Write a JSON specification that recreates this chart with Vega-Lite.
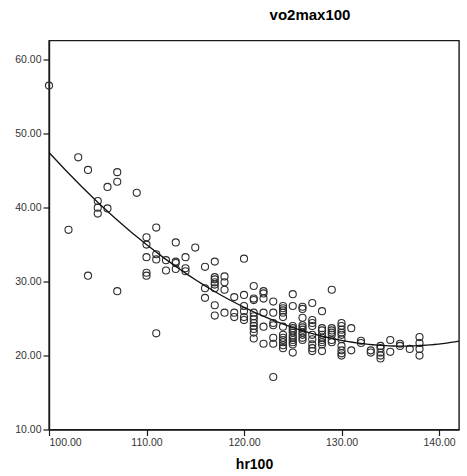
{
  "$schema": "https://vega.github.io/schema/vega-lite/v6.json",
  "autosize": {"type": "none"},
  "padding": {"left": 49, "top": 40.5, "right": 8, "bottom": 46},
  "width": 410,
  "height": 389,
  "background": "#ffffff",
  "title": {
    "text": "vo2max100",
    "anchor": "middle",
    "dx": 56,
    "offset": 5.5,
    "baseline": "alphabetic",
    "font": "Liberation Sans",
    "fontSize": 15,
    "fontWeight": "bold",
    "color": "#000000"
  },
  "config": {
    "font": "Liberation Sans",
    "view": {"stroke": "#1a1a1a", "strokeWidth": 1.4},
    "axis": {
      "grid": false,
      "domainColor": "#1a1a1a",
      "domainWidth": 1.4,
      "tickColor": "#1a1a1a",
      "tickWidth": 1.2,
      "tickSize": 6,
      "labelFont": "Liberation Sans",
      "labelFontSize": 10.5,
      "labelColor": "#333333",
      "labelPadding": 2,
      "titleFont": "Liberation Sans",
      "titleFontSize": 14,
      "titleFontWeight": "bold",
      "titleColor": "#000000"
    }
  },
  "data": {
    "values": [
      {"hr": 100, "vo2": 56.5},
      {"hr": 102, "vo2": 37.0},
      {"hr": 103, "vo2": 46.8},
      {"hr": 104, "vo2": 45.1}, {"hr": 104, "vo2": 30.8},
      {"hr": 105, "vo2": 40.9}, {"hr": 105, "vo2": 40.0}, {"hr": 105, "vo2": 39.2},
      {"hr": 106, "vo2": 42.8}, {"hr": 106, "vo2": 39.9},
      {"hr": 107, "vo2": 44.8}, {"hr": 107, "vo2": 43.5}, {"hr": 107, "vo2": 28.7},
      {"hr": 109, "vo2": 42.0},
      {"hr": 110, "vo2": 36.0}, {"hr": 110, "vo2": 35.0}, {"hr": 110, "vo2": 33.3}, {"hr": 110, "vo2": 31.2}, {"hr": 110, "vo2": 30.8},
      {"hr": 111, "vo2": 37.3}, {"hr": 111, "vo2": 33.7}, {"hr": 111, "vo2": 33.0}, {"hr": 111, "vo2": 23.0},
      {"hr": 112, "vo2": 32.9}, {"hr": 112, "vo2": 31.5},
      {"hr": 113, "vo2": 35.3}, {"hr": 113, "vo2": 32.7}, {"hr": 113, "vo2": 32.5}, {"hr": 113, "vo2": 31.7},
      {"hr": 114, "vo2": 33.3}, {"hr": 114, "vo2": 31.8}, {"hr": 114, "vo2": 31.4},
      {"hr": 115, "vo2": 34.6},
      {"hr": 116, "vo2": 32.0}, {"hr": 116, "vo2": 29.1}, {"hr": 116, "vo2": 27.8},
      {"hr": 117, "vo2": 32.7}, {"hr": 117, "vo2": 30.6}, {"hr": 117, "vo2": 30.3}, {"hr": 117, "vo2": 29.9}, {"hr": 117, "vo2": 29.6}, {"hr": 117, "vo2": 29.1}, {"hr": 117, "vo2": 26.8}, {"hr": 117, "vo2": 25.4},
      {"hr": 118, "vo2": 30.7}, {"hr": 118, "vo2": 29.9}, {"hr": 118, "vo2": 28.9}, {"hr": 118, "vo2": 25.8},
      {"hr": 119, "vo2": 27.9}, {"hr": 119, "vo2": 25.8}, {"hr": 119, "vo2": 25.2},
      {"hr": 120, "vo2": 33.1}, {"hr": 120, "vo2": 28.2}, {"hr": 120, "vo2": 26.7}, {"hr": 120, "vo2": 26.0}, {"hr": 120, "vo2": 25.2}, {"hr": 120, "vo2": 24.8},
      {"hr": 121, "vo2": 29.4}, {"hr": 121, "vo2": 27.7}, {"hr": 121, "vo2": 27.5}, {"hr": 121, "vo2": 25.8}, {"hr": 121, "vo2": 25.3}, {"hr": 121, "vo2": 24.9}, {"hr": 121, "vo2": 24.4}, {"hr": 121, "vo2": 24.0}, {"hr": 121, "vo2": 23.6}, {"hr": 121, "vo2": 23.1}, {"hr": 121, "vo2": 22.3},
      {"hr": 122, "vo2": 28.7}, {"hr": 122, "vo2": 28.4}, {"hr": 122, "vo2": 27.7}, {"hr": 122, "vo2": 25.8}, {"hr": 122, "vo2": 23.9}, {"hr": 122, "vo2": 21.6},
      {"hr": 123, "vo2": 27.3}, {"hr": 123, "vo2": 25.8}, {"hr": 123, "vo2": 24.4}, {"hr": 123, "vo2": 24.1}, {"hr": 123, "vo2": 22.4}, {"hr": 123, "vo2": 21.6}, {"hr": 123, "vo2": 17.1},
      {"hr": 124, "vo2": 26.7}, {"hr": 124, "vo2": 26.4}, {"hr": 124, "vo2": 26.1}, {"hr": 124, "vo2": 25.8}, {"hr": 124, "vo2": 25.2}, {"hr": 124, "vo2": 23.9}, {"hr": 124, "vo2": 22.8}, {"hr": 124, "vo2": 22.4}, {"hr": 124, "vo2": 22.1}, {"hr": 124, "vo2": 21.8}, {"hr": 124, "vo2": 21.4}, {"hr": 124, "vo2": 21.0},
      {"hr": 125, "vo2": 28.3}, {"hr": 125, "vo2": 26.7}, {"hr": 125, "vo2": 24.0}, {"hr": 125, "vo2": 23.7}, {"hr": 125, "vo2": 23.4}, {"hr": 125, "vo2": 23.1}, {"hr": 125, "vo2": 22.7}, {"hr": 125, "vo2": 22.4}, {"hr": 125, "vo2": 22.1}, {"hr": 125, "vo2": 21.8}, {"hr": 125, "vo2": 21.5}, {"hr": 125, "vo2": 20.4},
      {"hr": 126, "vo2": 26.6}, {"hr": 126, "vo2": 26.3}, {"hr": 126, "vo2": 25.1}, {"hr": 126, "vo2": 24.1}, {"hr": 126, "vo2": 23.8}, {"hr": 126, "vo2": 23.5}, {"hr": 126, "vo2": 23.1}, {"hr": 126, "vo2": 22.8}, {"hr": 126, "vo2": 22.4}, {"hr": 126, "vo2": 22.1},
      {"hr": 127, "vo2": 27.1}, {"hr": 127, "vo2": 24.8}, {"hr": 127, "vo2": 24.4}, {"hr": 127, "vo2": 24.0}, {"hr": 127, "vo2": 22.8}, {"hr": 127, "vo2": 22.2}, {"hr": 127, "vo2": 21.5}, {"hr": 127, "vo2": 21.0}, {"hr": 127, "vo2": 20.6},
      {"hr": 128, "vo2": 26.0}, {"hr": 128, "vo2": 23.7}, {"hr": 128, "vo2": 23.4}, {"hr": 128, "vo2": 22.8}, {"hr": 128, "vo2": 22.4}, {"hr": 128, "vo2": 22.1}, {"hr": 128, "vo2": 21.8}, {"hr": 128, "vo2": 21.5}, {"hr": 128, "vo2": 20.6},
      {"hr": 129, "vo2": 28.9}, {"hr": 129, "vo2": 23.7}, {"hr": 129, "vo2": 23.4}, {"hr": 129, "vo2": 23.1}, {"hr": 129, "vo2": 22.8}, {"hr": 129, "vo2": 22.1}, {"hr": 129, "vo2": 21.8},
      {"hr": 130, "vo2": 24.4}, {"hr": 130, "vo2": 24.0}, {"hr": 130, "vo2": 23.5}, {"hr": 130, "vo2": 23.1}, {"hr": 130, "vo2": 22.8}, {"hr": 130, "vo2": 22.2}, {"hr": 130, "vo2": 21.3}, {"hr": 130, "vo2": 20.7}, {"hr": 130, "vo2": 20.3}, {"hr": 130, "vo2": 20.0},
      {"hr": 131, "vo2": 23.7}, {"hr": 131, "vo2": 20.7},
      {"hr": 132, "vo2": 22.0}, {"hr": 132, "vo2": 21.7},
      {"hr": 133, "vo2": 20.7}, {"hr": 133, "vo2": 20.4},
      {"hr": 134, "vo2": 21.3}, {"hr": 134, "vo2": 21.0}, {"hr": 134, "vo2": 20.4}, {"hr": 134, "vo2": 20.0}, {"hr": 134, "vo2": 19.6},
      {"hr": 135, "vo2": 22.1}, {"hr": 135, "vo2": 20.5},
      {"hr": 136, "vo2": 21.6}, {"hr": 136, "vo2": 21.3},
      {"hr": 137, "vo2": 20.9},
      {"hr": 138, "vo2": 22.5}, {"hr": 138, "vo2": 21.7}, {"hr": 138, "vo2": 20.9}, {"hr": 138, "vo2": 20.0}
    ]
  },
  "encoding": {
    "x": {
      "field": "hr",
      "type": "quantitative",
      "scale": {"domain": [100, 142.05], "nice": false, "zero": false},
      "axis": {"values": [100, 110, 120, 130, 140], "format": ".2f", "title": "hr100", "titlePadding": 9}
    },
    "y": {
      "field": "vo2",
      "type": "quantitative",
      "scale": {"domain": [10, 62.6], "nice": false, "zero": false},
      "axis": {"values": [10, 20, 30, 40, 50, 60], "format": ".2f", "title": null}
    }
  },
  "layer": [
    {
      "mark": {"type": "point", "shape": "circle", "filled": false, "size": 50, "stroke": "#2e2e2e", "strokeWidth": 1.1, "opacity": 1, "clip": false}
    },
    {
      "transform": [
        {"regression": "vo2", "on": "hr", "method": "poly", "order": 2, "extent": [100, 142.05]}
      ],
      "mark": {"type": "line", "color": "#111111", "strokeWidth": 1.3, "clip": true}
    }
  ]
}
